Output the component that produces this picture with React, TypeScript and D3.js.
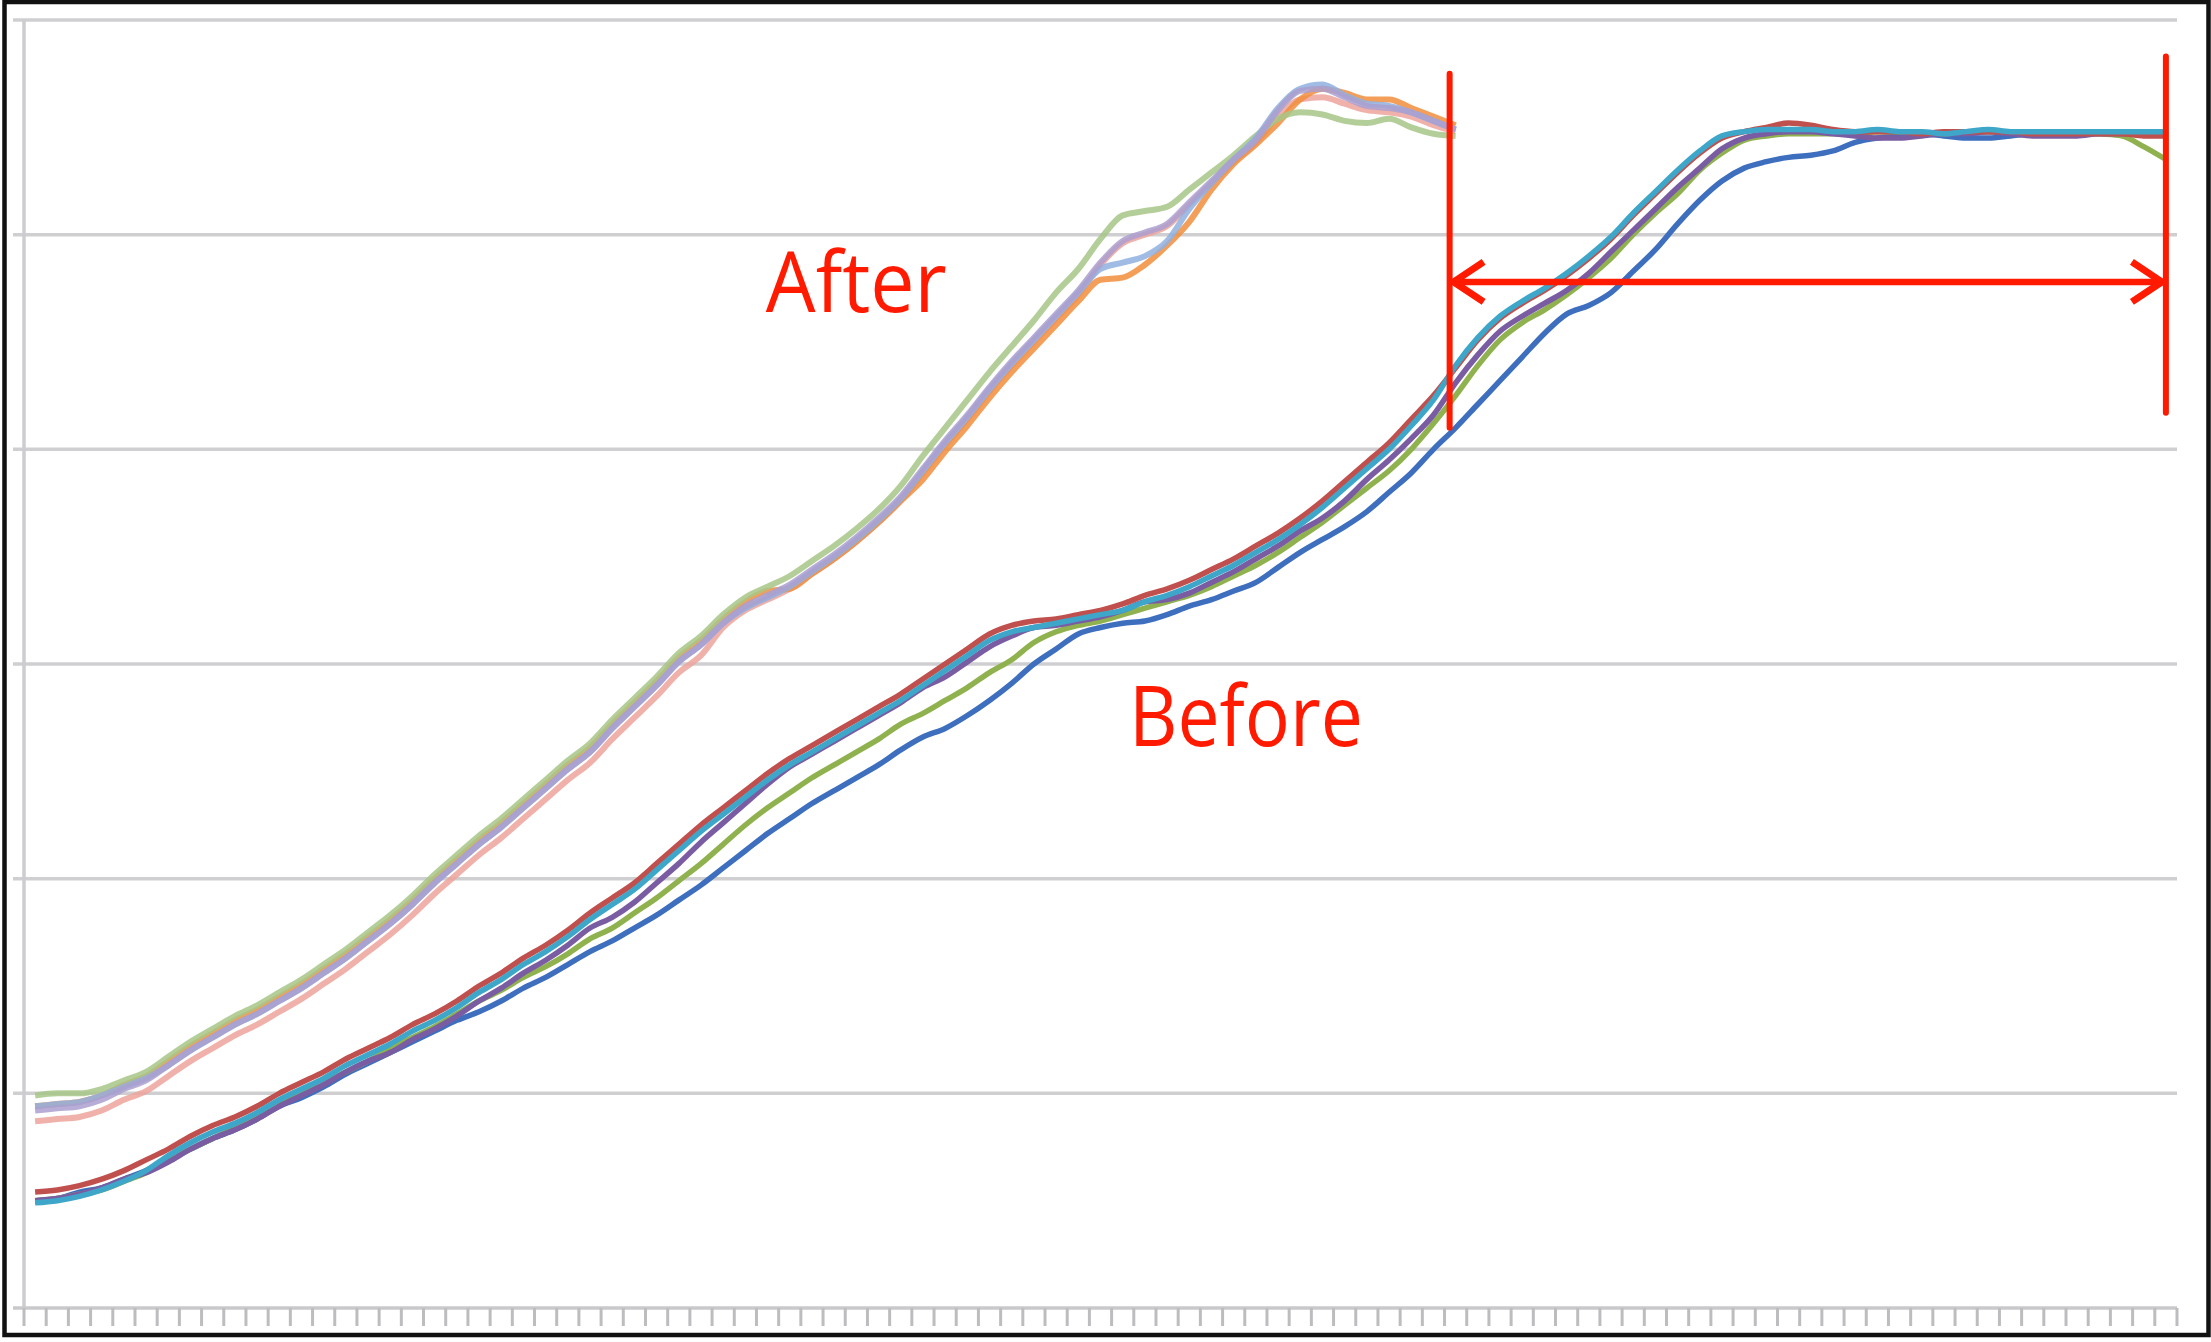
import React, { useEffect, useRef } from "react";
import * as d3 from "d3";

const W = 2211;
const H = 1342;

// 97 sample positions along the x axis (no labels in the original)
const categories = Array.from({ length: 97 }, (_, i) => i + 1);
const gridValues = [10, 20, 30, 40, 50, 60];

// "Before" runs (full length)
const beforeRed = [
  5.4, 5.5, 5.7, 6.0, 6.4, 6.9, 7.4, 8.0, 8.5, 8.9,
  9.4, 10.0, 10.5, 11.0, 11.6, 12.1, 12.6, 13.2, 13.7, 14.3,
  15.0, 15.6, 16.3, 16.9, 17.6, 18.4, 19.1, 19.8, 20.7, 21.6,
  22.5, 23.3, 24.1, 24.9, 25.6, 26.2, 26.8, 27.4, 28.0, 28.6,
  29.3, 30.0, 30.7, 31.4, 31.8, 32.0, 32.1, 32.3, 32.5, 32.8,
  33.2, 33.5, 33.9, 34.4, 34.9, 35.5, 36.1, 36.8, 37.6, 38.5,
  39.4, 40.3, 41.4, 42.5, 43.8, 45.1, 46.1, 46.8, 47.4, 48.1,
  48.9, 49.8, 50.9, 51.9, 52.9, 53.8, 54.5, 54.8, 55.0, 55.2,
  55.1, 54.9, 54.8, 54.8, 54.8, 54.7, 54.8, 54.8, 54.8, 54.8,
  54.7, 54.7, 54.7, 54.7, 54.7, 54.6, 54.6,
];
const beforeTeal = [
  4.9, 5.0, 5.2, 5.5, 5.9, 6.4, 7.1, 7.7, 8.2, 8.6,
  9.1, 9.7, 10.2, 10.7, 11.3, 11.8, 12.3, 12.9, 13.4, 14.0,
  14.7, 15.3, 16.0, 16.6, 17.3, 18.1, 18.8, 19.5, 20.4, 21.3,
  22.2, 23.0, 23.8, 24.6, 25.3, 25.9, 26.5, 27.1, 27.7, 28.3,
  29.0, 29.7, 30.4, 31.1, 31.5, 31.7, 31.9, 32.1, 32.3, 32.5,
  32.9, 33.2, 33.6, 34.1, 34.6, 35.2, 35.8, 36.5, 37.3, 38.2,
  39.1, 40.0, 41.1, 42.3, 43.9, 45.2, 46.2, 46.9, 47.5, 48.2,
  49.0, 49.9, 51.0, 52.0, 53.0, 53.9, 54.6, 54.8, 54.9, 54.9,
  54.9, 54.8, 54.8, 54.9, 54.8, 54.8, 54.7, 54.8, 54.9, 54.8,
  54.8, 54.8, 54.8, 54.8, 54.8, 54.8, 54.8,
];
const beforePurple = [
  5.0, 5.1, 5.3, 5.6, 6.0, 6.3, 6.8, 7.4, 7.9, 8.3,
  8.8, 9.4, 9.9, 10.4, 11.0, 11.5, 11.9, 12.5, 13.0, 13.6,
  14.3, 14.9, 15.6, 16.2, 16.9, 17.7, 18.2, 18.9, 19.8, 20.7,
  21.7, 22.6, 23.5, 24.4, 25.2, 25.8, 26.4, 27.0, 27.6, 28.2,
  28.9, 29.4, 30.1, 30.8, 31.3, 31.7, 31.8, 32.0, 32.2, 32.5,
  32.9, 33.0, 33.3, 33.8, 34.3, 34.9, 35.5, 36.2, 36.8, 37.6,
  38.6, 39.5, 40.5, 41.6, 43.1, 44.4, 45.5, 46.2, 46.8, 47.4,
  48.2, 49.2, 50.2, 51.2, 52.2, 53.1, 54.0, 54.5, 54.7, 54.8,
  54.8, 54.7, 54.6, 54.5, 54.5, 54.6, 54.7, 54.7, 54.8, 54.7,
  54.6, 54.6, 54.6, 54.7, 54.7, 54.7, 54.7,
];
const beforeGreen = [
  5.0, 5.1, 5.3, 5.5, 5.9, 6.3, 6.9, 7.4, 7.9, 8.4,
  8.9, 9.5, 10.0, 10.5, 11.0, 11.5, 12.1, 12.6, 13.1, 13.7,
  14.3, 14.8, 15.4, 15.9, 16.5, 17.2, 17.7, 18.4, 19.1, 19.9,
  20.7, 21.6, 22.5, 23.3, 24.0, 24.7, 25.3, 25.9, 26.5, 27.2,
  27.7, 28.3, 28.9, 29.6, 30.2, 31.0, 31.5, 31.8, 32.0, 32.3,
  32.6, 32.9, 33.2, 33.6, 34.1, 34.6, 35.2, 35.9, 36.6, 37.4,
  38.2, 39.0, 40.0, 41.2, 42.5, 43.9, 45.1, 45.9, 46.5, 47.2,
  48.0, 48.9, 50.0, 51.0, 51.9, 53.0, 53.8, 54.4, 54.6, 54.7,
  54.7, 54.7, 54.7, 54.8, 54.8, 54.7, 54.7, 54.8, 54.8, 54.8,
  54.8, 54.8, 54.8, 54.7, 54.6, 54.1, 53.5,
];
const beforeBlue = [
  5.0, 5.1, 5.4, 5.6, 6.0, 6.4, 6.9, 7.4, 7.9, 8.3,
  8.8, 9.4, 9.8, 10.3, 10.9, 11.4, 11.9, 12.4, 12.9, 13.4,
  13.8, 14.3, 14.9, 15.4, 16.0, 16.6, 17.1, 17.7, 18.3, 19.0,
  19.7, 20.5, 21.3, 22.1, 22.8, 23.5, 24.1, 24.7, 25.3, 26.0,
  26.6, 27.0, 27.6, 28.3, 29.1, 30.0, 30.7, 31.4, 31.7, 31.9,
  32.0, 32.3, 32.7, 33.0, 33.4, 33.8, 34.5, 35.2, 35.8, 36.4,
  37.1, 38.0, 38.9, 40.0, 41.0, 42.1, 43.2, 44.3, 45.4, 46.3,
  46.7, 47.3, 48.3, 49.3, 50.5, 51.6, 52.5, 53.1, 53.4, 53.6,
  53.7, 53.9, 54.3, 54.5, 54.6, 54.7, 54.6, 54.5, 54.5, 54.6,
  54.7, 54.7, 54.7, 54.8, 54.8, 54.7, 54.7,
];

// "After" runs (shorter: 65 positions)
const afterOrange = [
  9.4, 9.5, 9.6, 9.9, 10.4, 10.8, 11.5, 12.2, 12.8, 13.4,
  13.9, 14.5, 15.1, 15.8, 16.5, 17.3, 18.1, 19.0, 20.0, 20.9,
  21.8, 22.6, 23.5, 24.4, 25.3, 26.1, 27.2, 28.2, 29.2, 30.3,
  31.1, 32.1, 32.9, 33.4, 33.5, 34.2, 34.9, 35.7, 36.6, 37.6,
  38.6, 39.9, 41.1, 42.4, 43.6, 44.7, 45.8, 46.9, 47.9, 48.0,
  48.6, 49.5, 50.6, 52.1, 53.3, 54.2, 55.2, 56.3, 56.8, 56.6,
  56.3, 56.3, 55.9, 55.5, 55.1,
];
const afterBlue = [
  9.4, 9.5, 9.6, 9.9, 10.3, 10.7, 11.3, 12.0, 12.6, 13.2,
  13.7, 14.3, 14.9, 15.6, 16.3, 17.1, 17.9, 18.8, 19.8, 20.7,
  21.6, 22.4, 23.3, 24.2, 25.1, 25.9, 27.0, 28.0, 29.0, 30.1,
  30.9, 31.9, 32.6, 33.1, 33.6, 34.3, 35.0, 35.8, 36.7, 37.7,
  39.0, 40.3, 41.5, 42.8, 44.0, 45.1, 46.2, 47.3, 48.4, 48.7,
  49.0, 49.7, 51.2, 52.4, 53.5, 54.5, 55.9, 56.8, 57.0, 56.5,
  56.1, 56.0, 55.7, 55.3, 54.9,
];
const afterGreen = [
  9.9, 10.0, 10.0, 10.2, 10.6, 11.0, 11.7, 12.4, 13.0, 13.6,
  14.1, 14.7, 15.3, 16.0, 16.7, 17.5, 18.3, 19.2, 20.2, 21.1,
  22.0, 22.8, 23.7, 24.6, 25.5, 26.3, 27.4, 28.4, 29.4, 30.5,
  31.3, 32.3, 33.1, 33.6, 34.1, 34.8, 35.5, 36.3, 37.2, 38.3,
  39.7, 41.0, 42.3, 43.6, 44.8, 46.0, 47.3, 48.4, 49.8, 50.9,
  51.1, 51.3, 52.1, 52.9, 53.7, 54.6, 55.4, 55.7, 55.6, 55.3,
  55.2, 55.4, 55.0, 54.7, 54.6,
];
const afterLavender = [
  9.2, 9.3, 9.4, 9.7, 10.2, 10.6, 11.3, 12.0, 12.6, 13.2,
  13.7, 14.3, 14.9, 15.6, 16.3, 17.1, 17.9, 18.8, 19.8, 20.7,
  21.6, 22.4, 23.3, 24.2, 25.1, 25.9, 27.0, 28.0, 29.0, 30.1,
  30.9, 31.9, 32.7, 33.2, 33.7, 34.4, 35.1, 35.9, 36.8, 37.8,
  39.1, 40.4, 41.6, 42.9, 44.1, 45.2, 46.3, 47.4, 48.7, 49.7,
  50.1, 50.5, 51.5, 52.5, 53.5, 54.4, 55.8, 56.7, 56.8, 56.4,
  56.0, 55.9, 55.7, 55.3, 54.9,
];
const afterPink = [
  8.7, 8.8, 8.9, 9.2, 9.7, 10.1, 10.8, 11.5, 12.1, 12.7,
  13.2, 13.8, 14.4, 15.1, 15.8, 16.6, 17.4, 18.3, 19.3, 20.2,
  21.1, 21.9, 22.8, 23.7, 24.6, 25.4, 26.5, 27.5, 28.5, 29.6,
  30.4, 31.7, 32.5, 33.0, 33.5, 34.2, 34.9, 35.7, 36.6, 37.6,
  38.9, 40.2, 41.4, 42.7, 43.9, 45.0, 46.1, 47.2, 48.6, 49.6,
  50.0, 50.4, 51.4, 52.4, 53.4, 54.3, 55.5, 56.3, 56.4, 56.1,
  55.8, 55.7, 55.5, 55.1, 54.8,
];

const afterSeries = [
  { values: afterPink, color: "#eda39b" },
  { values: afterOrange, color: "#f28e3c" },
  { values: afterGreen, color: "#a7c587" },
  { values: afterBlue, color: "#8fb0e0" },
  { values: afterLavender, color: "#aa9fcf" },
];
const beforeSeries = [
  { values: beforeBlue, color: "#3d6fbe" },
  { values: beforeGreen, color: "#8fb24f" },
  { values: beforePurple, color: "#7a5ca3" },
  { values: beforeRed, color: "#c0504d" },
  { values: beforeTeal, color: "#3ea6c8" },
];

// annotation, in data units
const bracketLeft = { top: 57.5, bottom: 41.0 };
const bracketRight = { top: 58.3, bottom: 41.7 };
const arrowLevel = 47.8;
const labels = [
  { text: "After", at: 37.0, value: 46.4, width: 181 },
  { text: "Before", at: 54.55, value: 26.2, width: 234 },
];
const RED = "#ff1a00";

export default function App() {
  const ref = useRef<SVGSVGElement>(null);

  useEffect(() => {
    const svg = d3.select(ref.current);
    svg.selectAll("*").remove();

    const left = 24;
    const right = 2177;
    const x = d3
      .scaleLinear()
      .domain([-0.5, categories.length - 0.5])
      .range([left, right]);
    const y = d3.scaleLinear().domain([0, 60]).range([1308, 20]);

    svg.append("rect").attr("width", W).attr("height", H).attr("fill", "#fff");

    // horizontal gridlines
    svg
      .append("g")
      .selectAll("line")
      .data(gridValues)
      .join("line")
      .attr("x1", left - 11)
      .attr("x2", right)
      .attr("y1", (d) => y(d))
      .attr("y2", (d) => y(d))
      .attr("stroke", "#cfcfd2")
      .attr("stroke-width", 3.5);

    // value axis line
    svg
      .append("line")
      .attr("x1", left)
      .attr("x2", left)
      .attr("y1", y(60))
      .attr("y2", y(0))
      .attr("stroke", "#cdcdd0")
      .attr("stroke-width", 3.5);

    // category axis with tick marks between categories
    svg
      .append("line")
      .attr("x1", left - 11)
      .attr("x2", right)
      .attr("y1", y(0))
      .attr("y2", y(0))
      .attr("stroke", "#c9c9cc")
      .attr("stroke-width", 3.5);
    svg
      .append("g")
      .selectAll("line")
      .data(d3.range(categories.length + 1))
      .join("line")
      .attr("x1", (k) => x(k - 0.5))
      .attr("x2", (k) => x(k - 0.5))
      .attr("y1", y(0))
      .attr("y2", y(0) + 18)
      .attr("stroke", "#bdbdc0")
      .attr("stroke-width", 3);

    const line = d3
      .line<number>()
      .x((_, i) => x(i))
      .y((d) => y(d))
      .curve(d3.curveMonotoneX);

    svg
      .append("g")
      .selectAll("path")
      .data(afterSeries)
      .join("path")
      .attr("d", (s) => line(s.values))
      .attr("fill", "none")
      .attr("stroke", (s) => s.color)
      .attr("stroke-width", 6)
      .attr("stroke-opacity", 0.85)
      .attr("stroke-linejoin", "round");

    svg
      .append("g")
      .selectAll("path")
      .data(beforeSeries)
      .join("path")
      .attr("d", (s) => line(s.values))
      .attr("fill", "none")
      .attr("stroke", (s) => s.color)
      .attr("stroke-width", 5.5)
      .attr("stroke-linejoin", "round");

    // red bracket between the end of "After" and the end of "Before"
    const xa = x(afterLavender.length - 1) - 6;
    const xb = x(beforeRed.length - 1);
    const g = svg.append("g").attr("stroke", RED).attr("fill", "none");
    g.append("line")
      .attr("x1", xa)
      .attr("x2", xa)
      .attr("y1", y(bracketLeft.top))
      .attr("y2", y(bracketLeft.bottom))
      .attr("stroke-width", 6)
      .attr("stroke-linecap", "round");
    g.append("line")
      .attr("x1", xb)
      .attr("x2", xb)
      .attr("y1", y(bracketRight.top))
      .attr("y2", y(bracketRight.bottom))
      .attr("stroke-width", 6)
      .attr("stroke-linecap", "round");
    const ay = y(arrowLevel);
    g.append("line")
      .attr("x1", xa + 3)
      .attr("x2", xb - 3)
      .attr("y1", ay)
      .attr("y2", ay)
      .attr("stroke-width", 6.5);
    g.append("polyline")
      .attr("points", `${xa + 34},${ay - 20} ${xa + 4},${ay} ${xa + 34},${ay + 20}`)
      .attr("stroke-width", 7)
      .attr("stroke-linejoin", "miter");
    g.append("polyline")
      .attr("points", `${xb - 34},${ay - 20} ${xb - 4},${ay} ${xb - 34},${ay + 20}`)
      .attr("stroke-width", 7)
      .attr("stroke-linejoin", "miter");

    svg
      .append("g")
      .selectAll("text")
      .data(labels)
      .join("text")
      .attr("x", (d) => x(d.at))
      .attr("y", (d) => y(d.value))
      .attr("text-anchor", "middle")
      .attr("font-family", "'Open Sans', 'Noto Sans', sans-serif")
      .attr("font-size", 84)
      .attr("fill", RED)
      .attr("textLength", (d) => d.width)
      .attr("lengthAdjust", "spacingAndGlyphs")
      .text((d) => d.text);

    // outer frame
    svg
      .append("rect")
      .attr("x", 4.5)
      .attr("y", 2)
      .attr("width", 2204)
      .attr("height", 1333)
      .attr("fill", "none")
      .attr("stroke", "#111")
      .attr("stroke-width", 4.5);
  }, []);

  return (
    <svg
      ref={ref}
      width={W}
      height={H}
      style={{ position: "absolute", left: 0, top: 0, display: "block" }}
    />
  );
}
